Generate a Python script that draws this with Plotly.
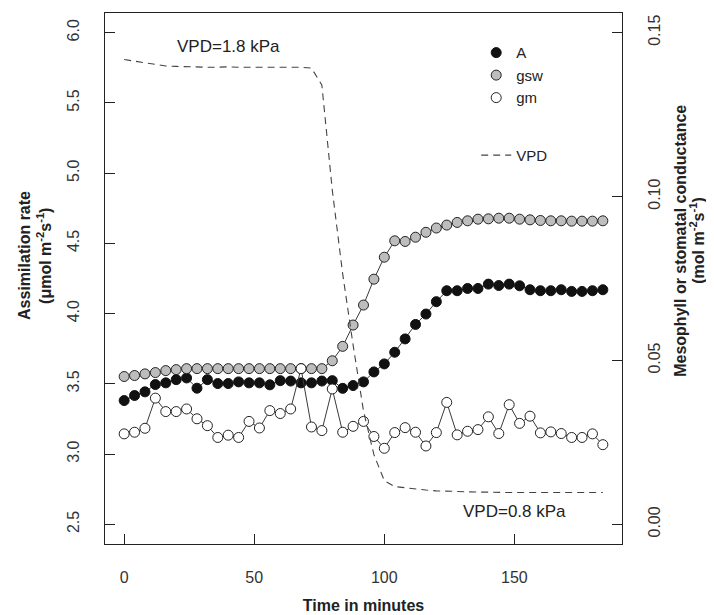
import plotly.graph_objects as go

time_min = list(range(0, 188, 4))

A = [3.381, 3.417, 3.443, 3.495, 3.507, 3.530, 3.542, 3.469, 3.530, 3.502,
     3.502, 3.514, 3.507, 3.507, 3.493, 3.523, 3.520, 3.507, 3.507, 3.520,
     3.523, 3.468, 3.488, 3.514, 3.585, 3.642, 3.725, 3.820, 3.923, 3.997,
     4.085, 4.163, 4.163, 4.179, 4.179, 4.210, 4.200, 4.210, 4.198, 4.170,
     4.163, 4.163, 4.170, 4.158, 4.158, 4.163, 4.170]

gsw = [0.0451, 0.0454, 0.0459, 0.0463, 0.0469, 0.0472,
       0.0475, 0.0475, 0.0475, 0.0475, 0.0475, 0.0475, 0.0475, 0.0475,
       0.0475, 0.0475, 0.0475, 0.0475, 0.0475, 0.0475,
       0.0499, 0.0543, 0.0608, 0.0669, 0.0748, 0.0815, 0.0865, 0.0863,
       0.0876, 0.0891, 0.0904, 0.0913, 0.0921, 0.0926, 0.0931, 0.0932,
       0.0934, 0.0934, 0.0931, 0.0929, 0.0927, 0.0926, 0.0926, 0.0925,
       0.0925, 0.0925, 0.0926]

gm = [0.0276, 0.0281, 0.0293, 0.0385, 0.0344, 0.0344, 0.0352, 0.0322, 0.0301,
      0.0265, 0.0272, 0.0265, 0.0314, 0.0294, 0.0347, 0.0338, 0.0352, 0.0475,
      0.0297, 0.0286, 0.0413, 0.0281, 0.0299, 0.0314, 0.0268, 0.0232, 0.0280,
      0.0295, 0.0281, 0.0239, 0.0280, 0.0372, 0.0273, 0.0284, 0.0289, 0.0328,
      0.0277, 0.0365, 0.0308, 0.0330, 0.0279, 0.0282, 0.0277, 0.0265, 0.0265,
      0.0276, 0.0243]

VPD = [1.818, 1.814, 1.810, 1.806, 1.803, 1.802, 1.801, 1.801, 1.800, 1.800,
       1.801, 1.800, 1.800, 1.800, 1.800, 1.800, 1.800, 1.800, 1.798, 1.758,
       1.511, 1.314, 1.147, 0.992, 0.889, 0.828, 0.814, 0.811, 0.808, 0.806,
       0.804, 0.803, 0.802, 0.802, 0.801, 0.801, 0.800, 0.800, 0.800, 0.800,
       0.800, 0.800, 0.800, 0.800, 0.800, 0.800, 0.800]

x_ticks = [0, 50, 100, 150]
left_ticks = [2.5, 3.0, 3.5, 4.0, 4.5, 5.0, 5.5, 6.0]
left_tick_text = ["2.5", "3.0", "3.5", "4.0", "4.5", "5.0", "5.5", "6.0"]
right_ticks = [0.0, 0.05, 0.10, 0.15]
right_tick_text = ["0.00", "0.05", "0.10", "0.15"]

FONT = "Liberation Sans, Arial, Helvetica, sans-serif"
INK = "#222222"
TICKINK = "#333333"
LINE = "#3a3a3a"

fig = go.Figure()

# connecting lines
fig.add_trace(go.Scatter(x=time_min, y=gsw, mode="lines", yaxis="y2",
                         line=dict(color=LINE, width=1), showlegend=False, hoverinfo="skip"))
fig.add_trace(go.Scatter(x=time_min, y=gm, mode="lines", yaxis="y2",
                         line=dict(color=LINE, width=1), showlegend=False, hoverinfo="skip"))
fig.add_trace(go.Scatter(x=time_min, y=A, mode="lines", yaxis="y",
                         line=dict(color=LINE, width=1), showlegend=False, hoverinfo="skip"))

# points
fig.add_trace(go.Scatter(x=time_min, y=A, mode="markers", name="A", yaxis="y",
                         legendgroup="pts",
                         marker=dict(symbol="circle", size=10, color="#111111",
                                     line=dict(color="#111111", width=1))))
fig.add_trace(go.Scatter(x=time_min, y=gsw, mode="markers", name="gsw", yaxis="y2",
                         legendgroup="pts",
                         marker=dict(symbol="circle", size=10, color="#bdbdbd",
                                     line=dict(color="#222222", width=1))))
fig.add_trace(go.Scatter(x=time_min, y=gm, mode="markers", name="gm", yaxis="y2",
                         legendgroup="pts",
                         marker=dict(symbol="circle", size=10, color="#ffffff",
                                     line=dict(color="#222222", width=1))))

# VPD dashed
fig.add_trace(go.Scatter(x=time_min, y=VPD, mode="lines", name="VPD", yaxis="y3",
                         legendgroup="vpd",
                         line=dict(color="#444444", width=1.1, dash="7px,5px")))

# page body has an 8px default margin, so the figure is sized/placed to compensate
W, H = 706, 607
ML, MT = 97, 4.7
PW, PH = 516.6, 531.8
fig.update_layout(
    width=W, height=H,
    margin=dict(l=ML, r=W - ML - PW, t=MT, b=H - MT - PH, autoexpand=False),
    paper_bgcolor="white", plot_bgcolor="white",
    font=dict(family=FONT, size=15, color=INK),
    showlegend=True,
    legend=dict(x=0.718, y=0.956, xanchor="left", yanchor="top",
                bgcolor="rgba(0,0,0,0)", font=dict(size=15, color=INK),
                tracegroupgap=35, traceorder="grouped"),
    xaxis=dict(range=[-7.36, 191.36], tickmode="array", tickvals=x_ticks,
               ticktext=[str(v) for v in x_ticks],
               ticks="inside", ticklen=10, tickcolor=INK, tickwidth=1,
               showline=True, linecolor=INK, linewidth=1.3, mirror=True,
               showgrid=False, zeroline=False, ticklabelstandoff=19,
               tickfont=dict(size=16, color=TICKINK),
               title=dict(text="<b>Time in minutes</b>", font=dict(size=16, color=INK),
                          standoff=14)),
    yaxis=dict(range=[2.36, 6.14], tickmode="array", tickvals=left_ticks,
               ticktext=left_tick_text, tickangle=-90,
               ticks="inside", ticklen=10, tickcolor=INK, tickwidth=1,
               showline=True, linecolor=INK, linewidth=1.3,
               showgrid=False, zeroline=False, ticklabelstandoff=18,
               tickfont=dict(size=16, color=TICKINK)),
    yaxis2=dict(range=[-0.006, 0.156], tickmode="array", tickvals=right_ticks,
                ticktext=right_tick_text, tickangle=-90, overlaying="y", side="right",
                ticks="inside", ticklen=10, tickcolor=INK, tickwidth=1,
                showline=True, linecolor=INK, linewidth=1.3,
                showgrid=False, zeroline=False, ticklabelstandoff=18,
                tickfont=dict(size=16, color=TICKINK)),
    yaxis3=dict(range=[0.679, 1.9275], overlaying="y", visible=False,
                showgrid=False, zeroline=False),
)

ann = []
ann.append(dict(x=40, y=5.90, xref="x", yref="y", text="VPD=1.8 kPa", showarrow=False,
                xanchor="center", yanchor="middle", font=dict(size=17, color=INK)))
ann.append(dict(x=150, y=2.594, xref="x", yref="y", text="VPD=0.8 kPa", showarrow=False,
                xanchor="center", yanchor="middle", font=dict(size=17, color=INK)))
# left y title (two lines)
ann.append(dict(x=0, y=0.5425, xref="paper", yref="paper", xshift=-80,
                xanchor="center", yanchor="middle",
                text="<b>Assimilation rate</b>", textangle=-90, showarrow=False,
                font=dict(size=16, color=INK)))
ann.append(dict(x=0, y=0.5425, xref="paper", yref="paper", xshift=-61,
                xanchor="center", yanchor="middle",
                text="<b>(μmol m<sup>-2</sup>s<sup>-1</sup>)</b>", textangle=-90, showarrow=False,
                font=dict(size=16, color=INK)))
# right y title (two lines)
ann.append(dict(x=1, y=0.571, xref="paper", yref="paper", xshift=59,
                xanchor="center", yanchor="middle",
                text="<b>Mesophyll or stomatal conductance</b>", textangle=-90, showarrow=False,
                font=dict(size=16, color=INK)))
ann.append(dict(x=1, y=0.571, xref="paper", yref="paper", xshift=75,
                xanchor="center", yanchor="middle",
                text="<b>(mol m<sup>-2</sup>s<sup>-1</sup>)</b>", textangle=-90, showarrow=False,
                font=dict(size=16, color=INK)))
fig.update_layout(annotations=ann)

fig.write_html("out.html")
